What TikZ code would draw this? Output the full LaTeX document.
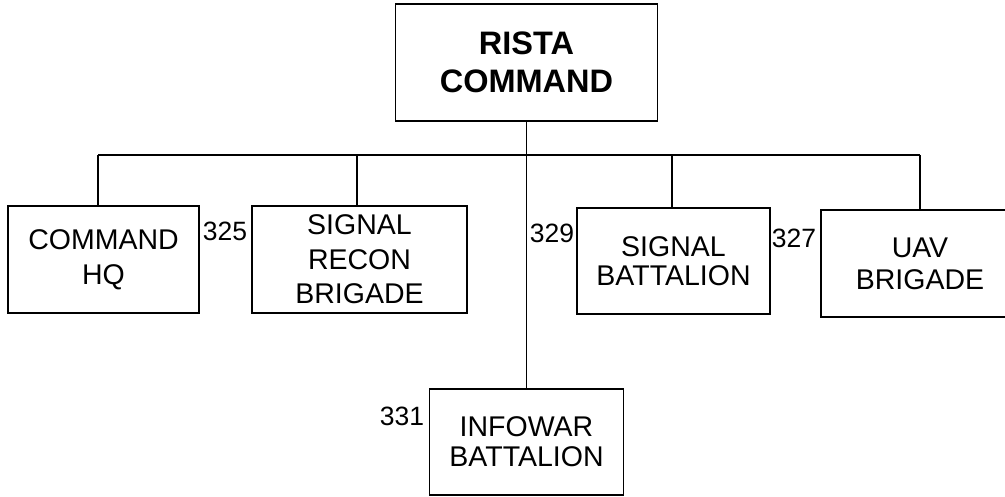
\documentclass[tikz,border=0pt]{standalone}
\usepackage{fontspec}
\setmainfont{Liberation Sans}
\usetikzlibrary{positioning}

\tikzset{
  unitbox/.style={draw=black, line width=1.8pt, align=center, inner sep=0pt,
                  font=\fontsize{28.5}{34.5}\selectfont},
  unitnum/.style={font=\fontsize{26.5}{28}\selectfont, inner sep=0pt},
  link/.style={draw=black, line width=1.8pt}
}

\begin{document}
\begin{tikzpicture}[x=1pt, y=-1pt]

\useasboundingbox (0,0) rectangle (1005,497);
\clip (0,0) rectangle (1005,497);

% === Top: RISTA command ===
\node[unitbox, font=\fontsize{32.5}{38.5}\selectfont\bfseries,
      minimum width=262pt, minimum height=117pt] (rista) at (526.5,62.5)
     {RISTA\\COMMAND};

% === Second row ===
\node[unitbox, minimum width=191pt, minimum height=107pt] (cmdhq) at (103.5,259.5)
     {COMMAND\\HQ};
\node[unitbox, minimum width=215pt, minimum height=107pt] (recon) at (359.5,259.5)
     {SIGNAL\\RECON\\BRIGADE};
\node[unitbox, font=\fontsize{28.5}{29.5}\selectfont,
      minimum width=193pt, minimum height=106pt] (sigbn) at (673.5,261)
     {SIGNAL\\BATTALION};
\node[unitbox, font=\fontsize{28.5}{32}\selectfont,
      minimum width=198pt, minimum height=107pt] (uav) at (920,263.5)
     {UAV\\BRIGADE};

% === Bottom: infowar ===
\node[unitbox, font=\fontsize{28.5}{30}\selectfont,
      minimum width=194pt, minimum height=106pt] (infowar) at (526.5,442)
     {INFOWAR\\BATTALION};

% Unit numbers
\node[unitnum] (n325) at (225,231) {325};
\node[unitnum] (n329) at (552,233) {329};
\node[unitnum] (n327) at (794,238) {327};
\node[unitnum] (n331) at (402,416) {331};

% Bus line
\coordinate (busL) at (98,155);
\coordinate (busR) at (920,155);
\coordinate (busA) at (357,155);
\coordinate (busB) at (672,155);
\draw[link] (busL) -- (busR);

% Drops to each unit
\draw[link] (busL) -- (busL |- cmdhq.north);
\draw[link] (busA) -- (busA |- recon.north);
\draw[link] (busB) -- (busB |- sigbn.north);
\draw[link] (busR) -- (busR |- uav.north);

% Trunk from top to infowar
\draw[link] (rista.south) -- (infowar.north);

\end{tikzpicture}
\end{document}
